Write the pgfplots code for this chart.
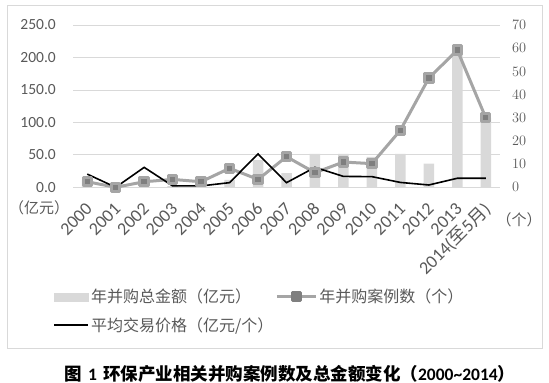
\documentclass[border=0pt]{standalone}
\usepackage{fontspec}
\setmainfont{Carlito}
\newfontfamily\cjk{Noto Sans CJK SC}
\usepackage{pgfplots}
\pgfplotsset{compat=1.18}
\definecolor{textgray}{HTML}{595959}
\definecolor{gridgray}{HTML}{D9D9D9}
\definecolor{bargray}{HTML}{D9D9D9}
\definecolor{linegray}{HTML}{A5A5A5}
\definecolor{markgray}{HTML}{7F7F7F}
\begin{document}
\begin{tikzpicture}
\useasboundingbox (0,0) rectangle (549bp,383bp);
\draw[gridgray, line width=0.75bp] (7bp,35bp) rectangle (542.5bp,378bp);
\begin{axis}[
  at={(73bp,195.7bp)}, anchor=south west, scale only axis,
  width=427bp, height=162.3bp,
  xmin=-0.5, xmax=14.5, ymin=0, ymax=250,
  axis line style={draw=none}, major tick length=0pt,
  xtick={0,...,14},
  xticklabels={2000,2001,2002,2003,2004,2005,2006,2007,2008,2009,2010,2011,2012,2013,{2014({\cjk 至}5{\cjk 月})}},
  ytick={0,50,...,250}, yticklabels={0.0,50.0,100.0,150.0,200.0,250.0},
  ymajorgrids, major grid style={gridgray, line width=0.75bp},
  yticklabel style={font=\fontsize{15.5bp}{18bp}\selectfont, text=textgray, inner sep=0pt, anchor=east, xshift=-17bp},
  xticklabel style={font=\fontsize{18bp}{20bp}\selectfont, text=textgray, inner sep=0pt, xshift=6bp, yshift=-23bp, rotate=45, anchor=base east},
  clip=false,
]
\addplot[ybar, bar width=10.5bp, fill=bargray, draw=none] coordinates {
  (0,11) (1,0) (2,10) (3,2) (4,1.5) (5,11.5) (6,42) (7,22) (8,51.5) (9,51.5) (10,47) (11,51.5) (12,36.4) (13,212) (14,107)};
\end{axis}
\begin{axis}[
  at={(73bp,195.7bp)}, anchor=south west, scale only axis,
  width=427bp, height=162.3bp,
  xmin=-0.5, xmax=14.5, ymin=0, ymax=70,
  axis x line=none, axis y line*=right, axis line style={draw=none}, major tick length=0pt,
  ytick={0,10,...,70},
  yticklabel style={font=\fontsize{15.5bp}{18bp}\selectfont, text=textgray, inner sep=0pt, anchor=west, xshift=12bp},
  legend columns=2, legend cell align=left,
  legend style={at={(axis description cs:-0.0468,-0.6205)}, anchor=north west, draw=none, fill=none, inner sep=0pt,
    font=\cjk\fontsize{16bp}{19bp}\selectfont, text=textgray, row sep=11bp,
    nodes={inner xsep=2bp, inner ysep=1bp},
    /tikz/every even column/.append style={column sep=0bp}},
  clip=false,
]
\addlegendimage{legend image code/.code={\fill[bargray] (0bp,-4bp) rectangle (34bp,4bp);}}
\addlegendentry{年并购总金额（亿元）}
\addplot[linegray, line width=3bp, line join=round, mark=square*, mark size=4.2bp, mark options={fill=markgray, draw=none},
  legend image code/.code={\draw[linegray, line width=3bp] (0bp,0bp) -- (39bp,0bp); \fill[markgray] (15.5bp,-4bp) rectangle (23.5bp,4bp);}]
  coordinates {(0,2.4) (1,0) (2,2.4) (3,3.4) (4,2.4) (5,8.2) (6,3.4) (7,13.2) (8,6.3) (9,10.9) (10,10.2) (11,24.6) (12,47.1) (13,59.2) (14,30)};
\addlegendentry{年并购案例数（个）}
\addplot[black, line width=1.6bp,
  legend image code/.code={\draw[black, line width=2bp] (0bp,0bp) -- (34bp,0bp);}]
  coordinates {(0,5.7) (1,0) (2,8.6) (3,0.6) (4,0.6) (5,2.0) (6,14.4) (7,2.0) (8,8.6) (9,4.7) (10,4.6) (11,2.1) (12,1.0) (13,3.9) (14,3.9)};
\addlegendentry{平均交易价格（亿元/个）}
\end{axis}
\node[text=textgray, font=\cjk\fontsize{15bp}{18bp}\selectfont] at (39bp,175.5bp) {（亿元）};
\node[text=textgray, font=\cjk\fontsize{15bp}{18bp}\selectfont] at (519bp,163bp) {（个）};
\node[font=\fontsize{17.5bp}{20bp}\selectfont\bfseries, inner sep=0pt] at (290bp,9.5bp) {{\cjk 图}\hspace{6bp}1\hspace{6bp}{\cjk 环保产业相关并购案例数及总金额变化（}2000\textasciitilde 2014{\cjk ）}};
\end{tikzpicture}
\end{document}
